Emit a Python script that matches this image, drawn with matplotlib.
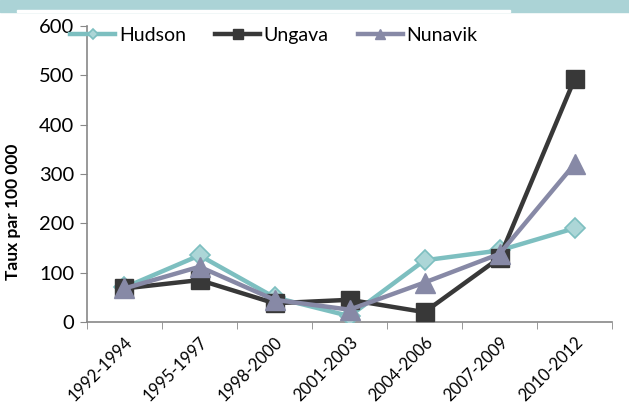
import matplotlib
matplotlib.use("Agg")
import matplotlib.pyplot as plt
from matplotlib.patches import Rectangle

categories = ["1992-1994", "1995-1997", "1998-2000", "2001-2003", "2004-2006", "2007-2009", "2010-2012"]
hudson = [70, 135, 50, 12, 125, 145, 190]
ungava = [68, 85, 38, 45, 20, 130, 492]
nunavik = [68, 112, 45, 25, 80, 138, 320]
yticks = [0, 100, 200, 300, 400, 500, 600]

plt.rcParams['font.family'] = ['Lato', 'DejaVu Sans']

fig = plt.figure(figsize=(6.29, 4.09), dpi=100)
fig.patches.append(Rectangle((0, 1 - 12/409), 1, 12/409, transform=fig.transFigure,
                             color="#abd3d6", zorder=0))
fig.patches.append(Rectangle((17/629, 1 - 12/409), (510-17)/629, 2/409, transform=fig.transFigure,
                             color="white", zorder=1))

ax = fig.add_axes([87/629, 1 - 322/409, (612-87)/629, (322-26)/409])
x = list(range(len(categories)))

ax.plot(x, hudson, color="#7dbfc0", lw=3.2, marker="D", markersize=10,
        markerfacecolor="#acd6d7", markeredgecolor="#7dbfc0", markeredgewidth=1.2,
        label="Hudson", zorder=3)
ax.plot(x, ungava, color="#383838", lw=3.2, marker="s", markersize=13,
        markerfacecolor="#383838", markeredgecolor="#383838",
        label="Ungava", zorder=4)
ax.plot(x, nunavik, color="#8789a6", lw=3.2, marker="^", markersize=14,
        markerfacecolor="#8789a6", markeredgecolor="#8789a6",
        label="Nunavik", zorder=5)

ax.set_xlim(-0.5, len(categories) - 0.5)
ax.set_ylim(0, 600)
ax.set_yticks(yticks)
ax.set_yticklabels([str(v) for v in yticks], fontsize=14.5)
ax.set_xticks(x)
ax.set_xticklabels(categories, rotation=45, ha="right", rotation_mode="anchor", fontsize=12)
ax.tick_params(axis="x", length=0, pad=9)
ax.set_xticks([i - 0.5 for i in range(len(categories) + 1)], minor=True)
ax.tick_params(axis="x", which="minor", length=5, color="#888888", direction="out")
ax.tick_params(axis="y", length=5, color="#888888", direction="out", pad=4)

for s in ["top", "right"]:
    ax.spines[s].set_visible(False)
for s in ["left", "bottom"]:
    ax.spines[s].set_color("#888888")
    ax.spines[s].set_linewidth(1.2)

fig.text(13/629, 1 - 212/409, "Taux par 100 000", rotation=90, fontsize=12.5,
         fontweight="bold", ha="center", va="center")

leg = ax.legend(loc="upper left", bbox_to_anchor=(-0.065, 1.055), ncol=3, frameon=False,
                fontsize=14, handlelength=2.3, columnspacing=1.5, handletextpad=0.2,
                markerscale=0.55)

fig.savefig("out.png", dpi=100)
